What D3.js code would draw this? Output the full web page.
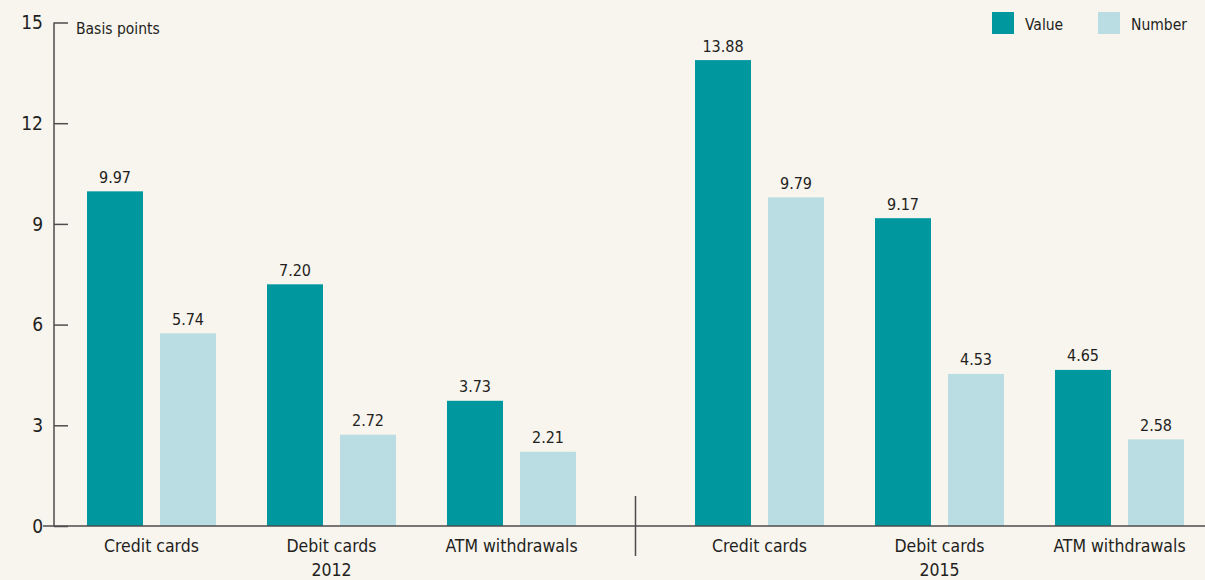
<!DOCTYPE html>
<html>
<head>
<meta charset="utf-8">
<script src="https://cdn.jsdelivr.net/npm/d3@7"></script>
<style>
  body { margin: 0; background: #f8f4ee; }
  svg { display: block; font-family: "DejaVu Sans Condensed", "Liberation Sans Narrow", sans-serif; }
</style>
</head>
<body>
<svg id="chart" width="1205" height="580"></svg>
<script>
// data
var years = ["2012", "2015"];
var categories = ["Credit cards", "Debit cards", "ATM withdrawals"];
var seriesNames = ["Value", "Number"];
var value2012 = [9.97, 7.20, 3.73];
var number2012 = [5.74, 2.72, 2.21];
var value2015 = [13.88, 9.17, 4.65];
var number2015 = [9.79, 4.53, 2.58];
var yTicks = [0, 3, 6, 9, 12, 15];

var colors = { "Value": "#00979f", "Number": "#badde3" };
var textColor = "#231f20";
var axisColor = "#4d4d4d";

var svg = d3.select("#chart");
svg.append("rect").attr("width", 1205).attr("height", 580).attr("fill", "#f8f4ee");

// build rows for drawing
var rows = [];
var sets = { "2012": [value2012, number2012], "2015": [value2015, number2015] };
years.forEach(function(yr) {
    categories.forEach(function(cat, i) {
        seriesNames.forEach(function(s, j) {
            rows.push({ year: yr, cat: cat, series: s, v: sets[yr][j][i] });
        });
    });
});

// scales
var y = d3.scaleLinear().domain([0, 15]).range([526, 22.5]);

var xYear = d3.scaleBand()
    .domain(years)
    .range([61.5, 1209.5])
    .paddingInner(68 / 608)
    .paddingOuter(0);

var xCat = d3.scaleBand()
    .domain(categories)
    .range([0, xYear.bandwidth()])
    .paddingInner(51 / 180)
    .paddingOuter(0.1417);

var xSer = d3.scaleBand()
    .domain(seriesNames)
    .range([0, xCat.bandwidth()])
    .paddingInner(17 / 73);

function barX(d) { return xYear(d.year) + xCat(d.cat) + xSer(d.series); }

// bars
svg.selectAll("rect.bar")
    .data(rows)
    .enter()
    .append("rect")
    .attr("class", "bar")
    .attr("x", barX)
    .attr("y", function(d) { return y(d.v); })
    .attr("width", xSer.bandwidth())
    .attr("height", function(d) { return y(0) - y(d.v); })
    .attr("fill", function(d) { return colors[d.series]; });

// value labels
svg.selectAll("text.val")
    .data(rows)
    .enter()
    .append("text")
    .attr("class", "val")
    .attr("x", function(d) { return barX(d) + xSer.bandwidth() / 2; })
    .attr("y", function(d) { return y(d.v) - 8.5; })
    .attr("text-anchor", "middle")
    .attr("font-size", "16px")
    .attr("fill", textColor)
    .text(function(d) { return d.v.toFixed(2); });

// y axis
var yAxis = d3.axisRight(y).tickValues(yTicks).tickSize(14).tickFormat("");
var gy = svg.append("g").attr("transform", "translate(54,0)").call(yAxis);
gy.select(".domain").remove();
gy.selectAll(".tick line").attr("stroke", axisColor).attr("stroke-width", 1.5);
svg.append("line")
    .attr("x1", 54).attr("x2", 54)
    .attr("y1", y(15)).attr("y2", y(0))
    .attr("stroke", axisColor).attr("stroke-width", 1.5);

svg.selectAll("text.ytick")
    .data(yTicks)
    .enter()
    .append("text")
    .attr("class", "ytick")
    .attr("x", 43)
    .attr("y", function(d) { return y(d); })
    .attr("dy", "0.36em")
    .attr("text-anchor", "end")
    .attr("font-size", "19px")
    .attr("fill", textColor)
    .text(function(d) { return d; });

svg.append("text")
    .attr("x", 76).attr("y", 34)
    .attr("font-size", "15.5px")
    .attr("fill", textColor)
    .text("Basis points");

// baseline
svg.append("line")
    .attr("x1", 43).attr("x2", 1205)
    .attr("y1", y(0)).attr("y2", y(0))
    .attr("stroke", axisColor).attr("stroke-width", 1.5);

// separator between years
var sepX = xYear("2015") - xYear.step() * xYear.paddingInner() / 2;
svg.append("line")
    .attr("x1", sepX).attr("x2", sepX)
    .attr("y1", 496).attr("y2", 556)
    .attr("stroke", axisColor).attr("stroke-width", 1.5);

// category labels
years.forEach(function(yr) {
    svg.selectAll("text.cat" + yr)
        .data(categories)
        .enter()
        .append("text")
        .attr("class", "cat" + yr)
        .attr("x", function(c) { return xYear(yr) + xCat(c) + xCat.bandwidth() / 2; })
        .attr("y", 552)
        .attr("text-anchor", "middle")
        .attr("font-size", "17.5px")
        .attr("fill", textColor)
        .text(function(c) { return c; });

    svg.append("text")
        .attr("x", xYear(yr) + xCat("Debit cards") + xCat.bandwidth() / 2)
        .attr("y", 576)
        .attr("text-anchor", "middle")
        .attr("font-size", "17.5px")
        .attr("fill", textColor)
        .text(yr);
});

// legend
var legendX = { "Value": 992, "Number": 1098 };
var lg = svg.selectAll("g.legend")
    .data(seriesNames)
    .enter()
    .append("g")
    .attr("class", "legend")
    .attr("transform", function(s) { return "translate(" + legendX[s] + ",12)"; });
lg.append("rect")
    .attr("width", 22).attr("height", 22)
    .attr("fill", function(s) { return colors[s]; });
lg.append("text")
    .attr("x", 33).attr("y", 18)
    .attr("font-size", "15.5px")
    .attr("fill", textColor)
    .text(function(s) { return s; });
</script>
</body>
</html>
